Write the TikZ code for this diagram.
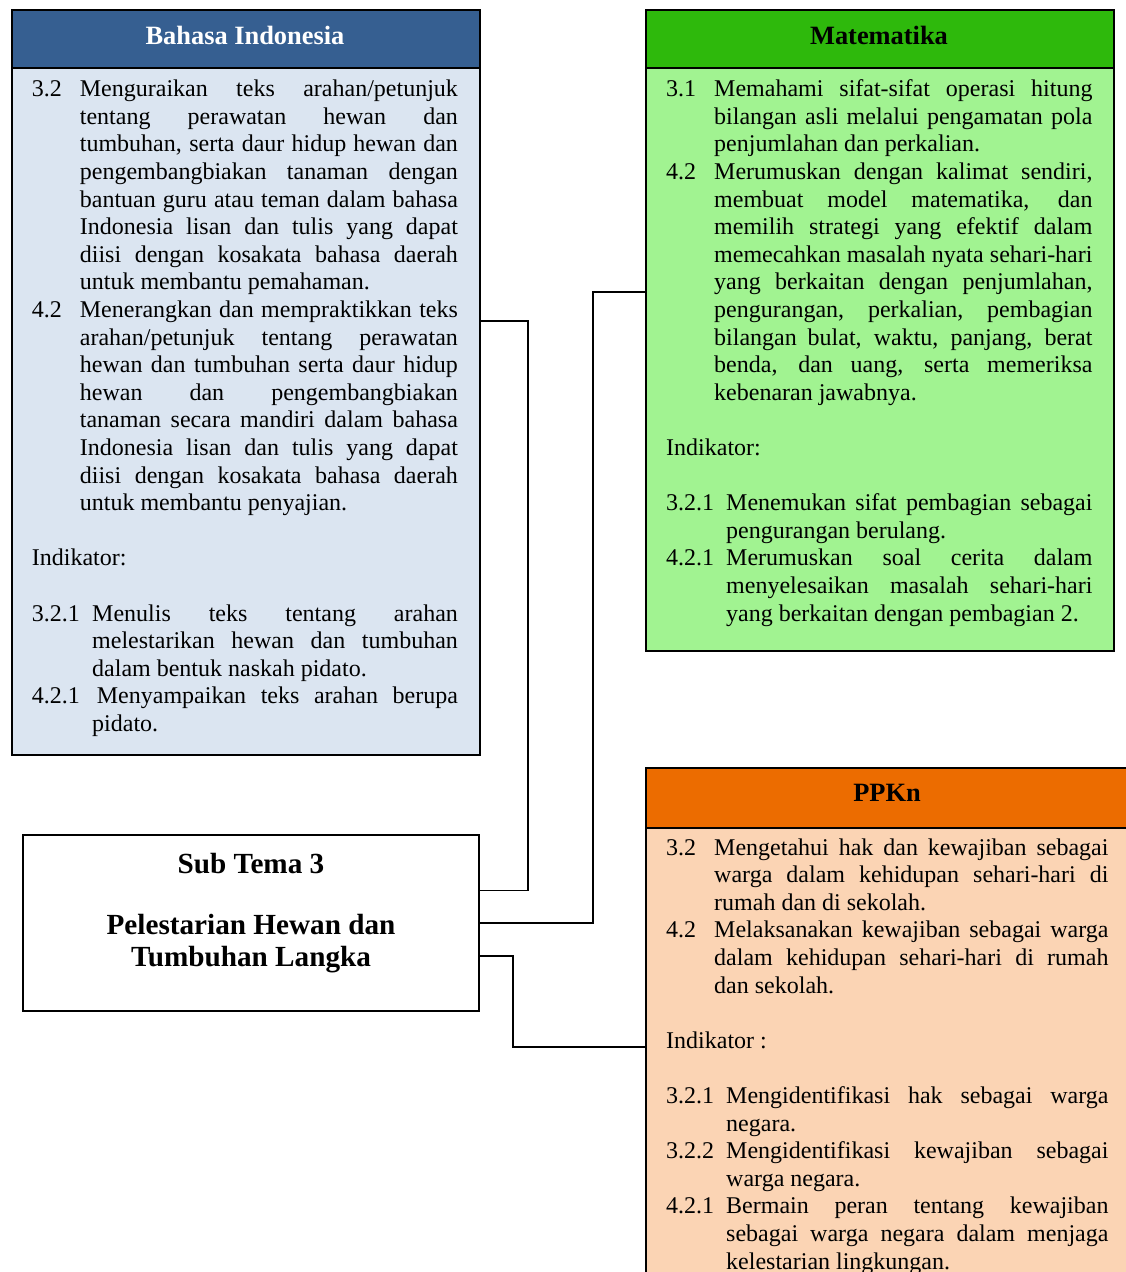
\documentclass[tikz,border=0pt]{standalone}
\usepackage{fontspec}
\setmainfont{Liberation Serif}

\definecolor{bluehead}{HTML}{365F91}
\definecolor{bluebody}{HTML}{DBE5F1}
\definecolor{greenhead}{HTML}{2EB90C}
\definecolor{greenbody}{HTML}{A1F391}
\definecolor{orangehead}{HTML}{EC6C00}
\definecolor{orangebody}{HTML}{FBD4B4}

% body text setup: justified lines, no hyphenation
\newcommand\bodyfont{\fontsize{24pt}{27.6pt}\selectfont
  \tolerance=10000\hyphenpenalty=10000\exhyphenpenalty=10000
  \parindent=0pt\parskip=0pt}
% numbered entry with a hanging indent: #1 indent, #2 number, #3 text
\newcommand\kd[3]{\hangindent=#1\hangafter=1\noindent\makebox[#1][l]{#2}#3\par}
% same, with a separate width for the number box on the first line
\newcommand\kdx[4]{\hangindent=#1\hangafter=1\noindent\makebox[#2][l]{#3}#4\par}
\newcommand\blankline{\noindent\mbox{}\par}

\tikzset{
  panel/.style={draw=black, line width=1.8pt, rectangle, inner sep=0pt, anchor=north west},
  headtext/.style={anchor=base, inner sep=0pt, font=\fontsize{26.4pt}{30pt}\selectfont\bfseries},
  bodytext/.style={anchor=base west, inner sep=0pt},
  titletext/.style={anchor=base, inner sep=0pt, font=\fontsize{29.2pt}{32pt}\selectfont\bfseries},
  conn/.style={draw=black, line width=1.8pt},
}

\begin{document}
\begin{tikzpicture}[x=1pt, y=-1pt]
\clip (0,0) rectangle (1126,1272);
\fill[white] (0,0) rectangle (1126,1272);

% ---------- Bahasa Indonesia ----------
\node[panel, fill=bluebody, minimum width=468pt, minimum height=744.7pt] (bind) at (11,9.3) {};
\node[panel, fill=bluehead, minimum width=468pt, minimum height=57.4pt] (bindh) at (11,9.3) {};
\node[headtext, text=white] (bindt) at (245,44) {Bahasa Indonesia};
\node[bodytext] (bindb) at (31.7,96.7) {\begin{minipage}[t]{426pt}\bodyfont
\kd{48pt}{3.2}{Menguraikan teks arahan/petunjuk\linebreak tentang perawatan hewan dan\linebreak tumbuhan, serta daur hidup hewan dan\linebreak pengembangbiakan tanaman dengan\linebreak bantuan guru atau teman dalam bahasa\linebreak Indonesia lisan dan tulis yang dapat\linebreak diisi dengan kosakata bahasa daerah\linebreak untuk membantu pemahaman.}
\kd{48pt}{4.2}{Menerangkan dan mempraktikkan teks\linebreak arahan/petunjuk tentang perawatan\linebreak hewan dan tumbuhan serta daur hidup\linebreak hewan dan pengembangbiakan\linebreak tanaman secara mandiri dalam bahasa\linebreak Indonesia lisan dan tulis yang dapat\linebreak diisi dengan kosakata bahasa daerah\linebreak untuk membantu penyajian.}
\blankline
\noindent Indikator:\par
\blankline
\kd{60.3pt}{3.2.1}{Menulis teks tentang arahan\linebreak melestarikan hewan dan tumbuhan\linebreak dalam bentuk naskah pidato.}
\kdx{60.3pt}{65pt}{4.2.1}{Menyampaikan teks arahan berupa\linebreak pidato.}
\end{minipage}};

% ---------- Matematika ----------
\node[panel, fill=greenbody, minimum width=468.3pt, minimum height=640.7pt] (mat) at (645,9.3) {};
\node[panel, fill=greenhead, minimum width=468.3pt, minimum height=57.4pt] (math) at (645,9.3) {};
\node[headtext, text=black] (matt) at (879,44) {Matematika};
\node[bodytext] (matb) at (666,96.7) {\begin{minipage}[t]{426.3pt}\bodyfont
\kd{48pt}{3.1}{Memahami sifat-sifat operasi hitung\linebreak bilangan asli melalui pengamatan pola\linebreak penjumlahan dan perkalian.}
\kd{48pt}{4.2}{Merumuskan dengan kalimat sendiri,\linebreak membuat model matematika, dan\linebreak memilih strategi yang efektif dalam\linebreak memecahkan masalah nyata sehari-hari\linebreak yang berkaitan dengan penjumlahan,\linebreak pengurangan, perkalian, pembagian\linebreak bilangan bulat, waktu, panjang, berat\linebreak benda, dan uang, serta memeriksa\linebreak kebenaran jawabnya.}
\blankline
\noindent Indikator:\par
\blankline
\kd{60pt}{3.2.1}{Menemukan sifat pembagian sebagai\linebreak pengurangan berulang.}
\kd{60pt}{4.2.1}{Merumuskan soal cerita dalam\linebreak menyelesaikan masalah sehari-hari\linebreak yang berkaitan dengan pembagian 2.}
\end{minipage}};

% ---------- PPKn ----------
\node[panel, fill=orangebody, minimum width=484pt, minimum height=540pt] (ppk) at (645,767.3) {};
\node[panel, fill=orangehead, minimum width=484pt, minimum height=59.4pt] (ppkh) at (645,767.3) {};
\node[headtext, text=black] (ppkt) at (887,801.7) {PPKn};
\node[bodytext] (ppkb) at (666,855) {\begin{minipage}[t]{442.3pt}\bodyfont
\kd{48pt}{3.2}{Mengetahui hak dan kewajiban sebagai\linebreak warga dalam kehidupan sehari-hari di\linebreak rumah dan di sekolah.}
\kd{48pt}{4.2}{Melaksanakan kewajiban sebagai warga\linebreak dalam kehidupan sehari-hari di rumah\linebreak dan sekolah.}
\blankline
\noindent Indikator :\par
\blankline
\kd{60pt}{3.2.1}{Mengidentifikasi hak sebagai warga\linebreak negara.}
\kd{60pt}{3.2.2}{Mengidentifikasi kewajiban sebagai\linebreak warga negara.}
\kd{60pt}{4.2.1}{Bermain peran tentang kewajiban\linebreak sebagai warga negara dalam menjaga\linebreak kelestarian lingkungan.}
\end{minipage}};

% ---------- Sub Tema ----------
\node[draw=black, line width=1.8pt, rectangle, inner sep=0pt, fill=white,
      minimum width=456pt, minimum height=175.7pt] (tema) at (251,922.85) {};
\node[titletext] (tema1) at (251,873.3) {Sub Tema 3};
\node[titletext] (tema2) at (251,934) {Pelestarian Hewan dan};
\node[titletext] (tema3) at (251,966) {Tumbuhan Langka};

% ---------- connectors ----------
\draw[conn] (bind.east |- 0,320.7) -- (528,320.7) -- (528,890.5) -- (tema.east |- 0,890.5);
\draw[conn] (tema.east |- 0,923) -- (593,923) -- (593,291.7) -- (mat.west |- 0,291.7);
\draw[conn] (tema.east |- 0,956) -- (512.6,956) -- (512.6,1046.7) -- (ppk.west |- 0,1046.7);
\end{tikzpicture}
\end{document}
